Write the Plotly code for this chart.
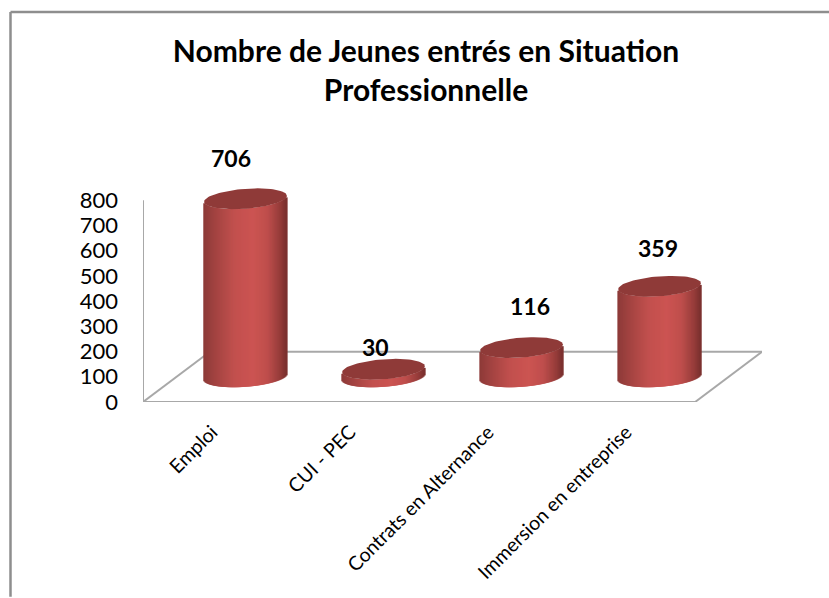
import numpy as np
import plotly.graph_objects as go

categories = ["Emploi", "CUI - PEC", "Contrats en Alternance", "Immersion en entreprise"]
values = [706, 30, 116, 359]
y_ticks = [0, 100, 200, 300, 400, 500, 600, 700, 800]
title_text = "Nombre de Jeunes entrés en Situation<br>Professionnelle"

# layout in pixels
W, H = 829, 598
px_x = 138.3
px_y = 202.5 / 800
y_top = 900
L, R, B = 143, 67, 195.5
T = H - B - y_top * px_y
FONT = "Lato"

# pseudo-3D geometry (data units)
depth_x = 67 / px_x
depth_y = 50.5 / px_y
cyl_w = 83 / px_x
ell_b = 10 / px_y
ell_k = 3 / px_y
label_dx = [-14, -8, 8, -2]
label_dy = [41, 22, 41.5, 38]

stop_pos = [-1, -0.75, -0.25, 0.2, 0.55, 0.85, 1]
stop_r = [140, 160, 194, 204, 190, 150, 122]
stop_g = [58, 66, 80, 84, 78, 60, 48]
stop_b = [56, 64, 78, 82, 76, 58, 46]

N = 83
u = (np.arange(N) + 0.5) / N * 2 - 1
colors = [
    f"rgb({np.interp(v, stop_pos, stop_r):.0f},{np.interp(v, stop_pos, stop_g):.0f},{np.interp(v, stop_pos, stop_b):.0f})"
    for v in u
]

fig = go.Figure()
for i, v in enumerate(values):
    cx = i + depth_x / 2
    base_c = depth_y / 2
    lower = base_c + ell_k * u - ell_b * np.sqrt(1 - u**2)
    fig.add_trace(go.Bar(
        x=cx + u * cyl_w / 2,
        y=[v] * N,
        base=lower,
        width=cyl_w / N * 2.5,
        marker=dict(color=colors, opacity=1, line=dict(width=0)),
        cliponaxis=False,
        hoverinfo="skip", showlegend=False,
    ))
    t = np.linspace(0, 2 * np.pi, 90)
    fig.add_trace(go.Scatter(
        x=cx + np.cos(t) * cyl_w / 2,
        y=base_c + v + ell_k * np.cos(t) + ell_b * np.sin(t),
        mode="lines", fill="toself", fillcolor="#8f3a38",
        line=dict(width=0, color="#8f3a38"),
        cliponaxis=False,
        hoverinfo="skip", showlegend=False,
    ))
    fig.add_annotation(
        x=cx, y=base_c + v, text=f"<b>{v}</b>", showarrow=False,
        xshift=label_dx[i], yshift=label_dy[i],
        xanchor="center", yanchor="middle",
        font=dict(family=FONT, size=23, color="black"),
    )

floor = "#a8a8a8"
x0, x1 = -0.5, 3.5
shapes = [
    dict(type="line", x0=x0, x1=x0, y0=0, y1=800),
    dict(type="line", x0=x0, x1=x1, y0=0, y1=0),
    dict(type="line", x0=x0, x1=x0 + depth_x, y0=0, y1=depth_y),
    dict(type="line", x0=x1, x1=x1 + depth_x, y0=0, y1=depth_y),
    dict(type="line", x0=x0 + depth_x, x1=x1 + depth_x, y0=depth_y, y1=depth_y),
]
for s in shapes:
    s.update(xref="x", yref="y", layer="below", line=dict(color=floor, width=2))

plot_w = W - L - R
plot_h = H - T - B
for kw in (
    dict(x0=(10.5 - L) / plot_w, x1=(10.5 - L) / plot_w, y0=(H - 598 - B) / plot_h, y1=(H - 11 - B) / plot_h),
    dict(x0=(10.5 - L) / plot_w, x1=(829 - L) / plot_w, y0=(H - 11 - B) / plot_h, y1=(H - 11 - B) / plot_h),
):
    shapes.append(dict(type="line", xref="paper", yref="paper",
                       line=dict(color="#8e8e8e", width=2.5), **kw))

fig.update_layout(
    width=W, height=H,
    margin=dict(l=L, r=R, t=T, b=B, autoexpand=False),
    paper_bgcolor="white", plot_bgcolor="rgba(0,0,0,0)",
    barmode="overlay", showlegend=False,
    font=dict(family=FONT, color="black"),
    title=dict(text=f"<b>{title_text}</b>", x=426 / W, xanchor="center",
               y=1 - 62 / H, yanchor="top",
               font=dict(family=FONT, size=30, color="black")),
    xaxis=dict(range=[x0, x1 + depth_x], tickmode="array", tickvals=list(range(len(categories))),
               ticktext=categories, tickangle=-45, showgrid=False, zeroline=False,
               showline=False, ticks="", ticklabelstandoff=14,
               tickfont=dict(family=FONT, size=19.5, color="black")),
    yaxis=dict(range=[0, y_top], tickmode="array", tickvals=y_ticks, showgrid=False, zeroline=False,
               showline=False, ticks="", ticklabelstandoff=24,
               tickfont=dict(family=FONT, size=22, color="black")),
    shapes=shapes,
)
fig.write_html("out.html", config=dict(displayModeBar=False),
               post_script="document.body.style.margin='0';document.body.style.overflow='hidden';")
